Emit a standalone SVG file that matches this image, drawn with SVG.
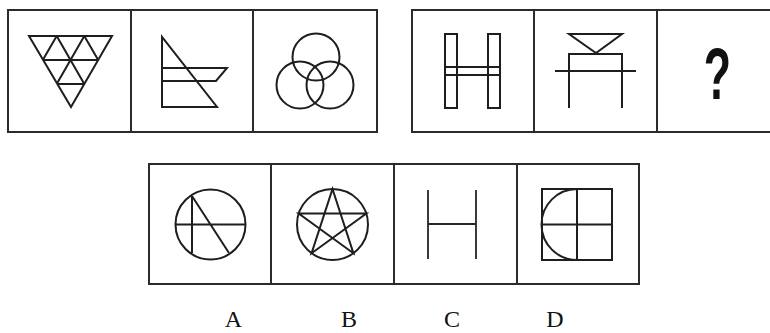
<svg xmlns="http://www.w3.org/2000/svg" width="770" height="333" viewBox="0 0 770 333">
<style>
.box{fill:none;stroke:#2b2b2b;stroke-width:2}
.fig{fill:none;stroke:#1e1e1e;stroke-width:2;stroke-linejoin:miter}
.thin{fill:none;stroke:#262626;stroke-width:1.8}
.lbl{font-family:"Liberation Serif",serif;font-size:24px;fill:#111;text-anchor:middle}
</style>
<rect width="770" height="333" fill="#fff"/>
<g id="frames">
<rect class="box" x="8" y="10" width="369" height="122"/>
<line class="box" x1="131" y1="10" x2="131" y2="132"/>
<line class="box" x1="253" y1="10" x2="253" y2="132"/>
<rect class="box" x="412" y="10" width="368" height="122"/>
<line class="box" x1="534" y1="10" x2="534" y2="132"/>
<line class="box" x1="657" y1="10" x2="657" y2="132"/>
<rect class="box" x="149" y="164" width="490" height="120"/>
<line class="box" x1="271" y1="164" x2="271" y2="284"/>
<line class="box" x1="394" y1="164" x2="394" y2="284"/>
<line class="box" x1="517" y1="164" x2="517" y2="284"/>
</g>
<g id="q1">
<path class="fig" d="M29 36 H112 L71 107 Z M42.8 60 H98.2 M56.7 84 H84.3 M56.7 36 L84.3 84 M84.3 36 L98.2 60 M84.3 36 L56.7 84 M56.7 36 L42.8 60"/>
</g>
<g id="q2">
<path class="fig" d="M162 37 V107 H217 Z M162 68 H227 L216 81 H162"/>
</g>
<g id="q3">
<circle class="fig" cx="316" cy="57" r="23.5"/>
<circle class="fig" cx="300" cy="85" r="23.5"/>
<circle class="fig" cx="330" cy="85" r="23.5"/>
</g>
<g id="q4">
<rect class="fig" x="445" y="34" width="12" height="74"/>
<rect class="fig" x="488" y="34" width="12" height="74"/>
<path class="fig" d="M445 67 H500 M445 75 H500"/>
</g>
<g id="q5">
<path class="fig" d="M569 34 H622 L596 53 Z M569 108 V54 H622 V108 M555 71 H636"/>
</g>
<g id="q6">
<text x="0" y="0" transform="translate(717.5 99) scale(0.62 1)" font-family="Liberation Sans, sans-serif" font-weight="bold" font-size="72" fill="#111" text-anchor="middle">?</text>
</g>
<g id="optA">
<circle class="fig" cx="210.5" cy="224.5" r="35"/>
<path class="fig" d="M175.5 224.5 H245.5 M192 196 V253 M192 196 L229 253"/>
</g>
<g id="optB">
<circle class="fig" cx="332.5" cy="224.5" r="35.5"/>
<path class="fig" d="M332.5 189 L353.4 253.2 L298.7 213.5 L366.3 213.5 L311.6 253.2 Z"/>
</g>
<g id="optC">
<path class="thin" d="M428 190 V259 M476 190 V259 M428 224 H476"/>
</g>
<g id="optD">
<rect class="fig" x="542" y="189" width="70" height="71"/>
<path class="fig" d="M577 189 V260 M542 224.5 H612 M577 189 A35.5 35.5 0 0 0 577 260"/>
</g>
<g id="labels">
<text class="lbl" x="233.5" y="327">A</text>
<text class="lbl" x="349" y="327">B</text>
<text class="lbl" x="452" y="327">C</text>
<text class="lbl" x="555" y="327">D</text>
</g>
</svg>
